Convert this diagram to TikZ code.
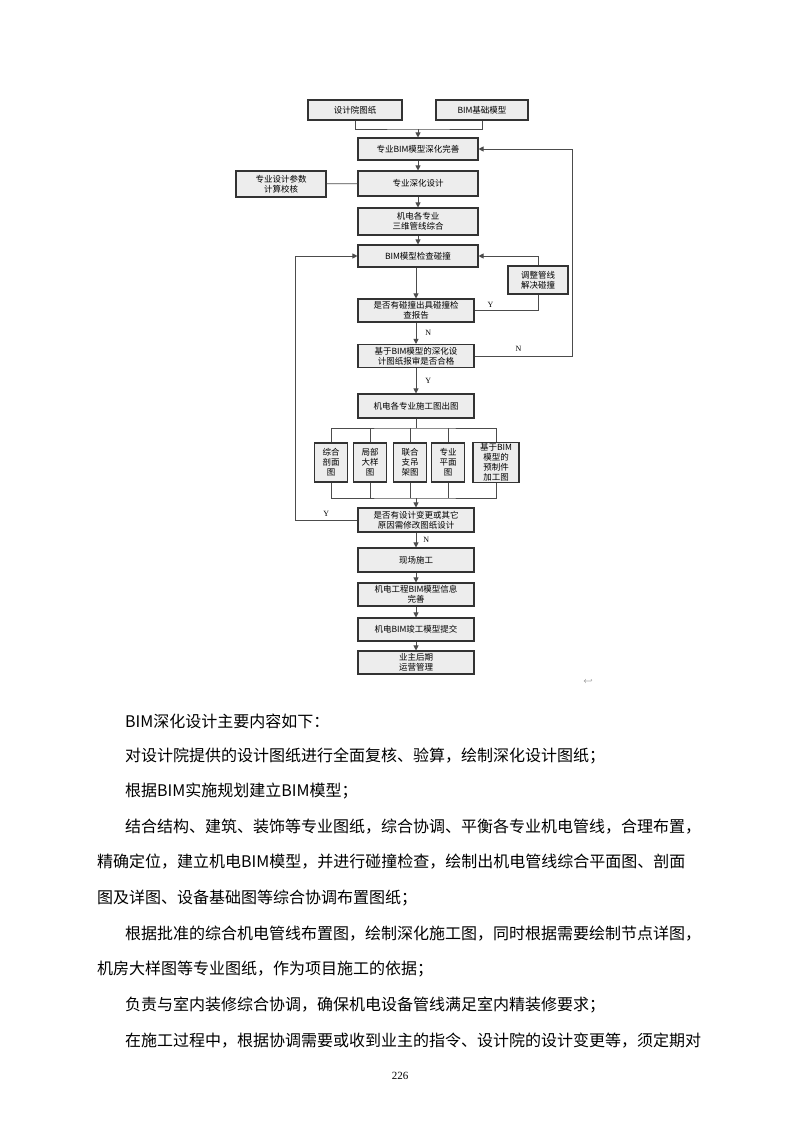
\documentclass[tikz,border=0pt]{standalone}
\usepackage{fontspec}
\setmainfont{Liberation Serif}
\newfontfamily\cjk{Noto Sans CJK SC}
\usetikzlibrary{arrows.meta}
\begin{document}
\begin{tikzpicture}[x=1pt,y=-1pt,
  bx/.style={draw=black!80,line width=1.1pt,fill=black!7,minimum width=120,minimum height=23,inner sep=1pt,align=center,font=\cjk\fontsize{8.5}{10}\selectfont},
  sb/.style={bx,minimum width=33,minimum height=39},
  ln/.style={draw=black!70,line width=0.8pt},
  ar/.style={ln,-{Triangle[length=5,width=5]}},
  lb/.style={font=\fontsize{8}{9}\selectfont,inner sep=1pt},
  tx/.style={anchor=west,inner sep=0,font=\cjk\fontsize{16}{18}\selectfont}]
\useasboundingbox[fill=white] (0,0) rectangle (800,1132);
\node[bx,minimum width=94,minimum height=20] (a1) at (355,110) {设计院图纸};
\node[bx,minimum width=92,minimum height=20] (a2) at (482,110) {BIM基础模型};
\node[bx,minimum height=22] (b) at (418,149) {专业BIM模型深化完善};
\node[bx,minimum height=25] (c) at (418,183.5) {专业深化设计};
\node[bx,minimum width=90,minimum height=26] (p) at (281,184) {专业设计参数\\计算校核};
\node[bx,minimum height=27] (d) at (418,221.5) {机电各专业\\三维管线综合};
\node[bx,minimum height=22] (e) at (418,256) {BIM模型检查碰撞};
\node[bx,minimum width=60,minimum height=28] (adj) at (538,280) {调整管线\\解决碰撞};
\node[bx,minimum width=116] (f) at (416,310.5) {是否有碰撞出具碰撞检\\查报告};
\node[bx,minimum width=116] (g) at (416,356) {基于BIM模型的深化设\\计图纸报审是否合格};
\node[bx,minimum width=116,minimum height=24] (h) at (416,406) {机电各专业施工图出图};
\node[sb] (s1) at (331,462.5) {综合\\剖面\\图};
\node[sb] (s2) at (370,462.5) {局部\\大样\\图};
\node[sb] (s3) at (410,462.5) {联合\\支吊\\架图};
\node[sb] (s4) at (448,462.5) {专业\\平面\\图};
\node[sb,minimum width=46] (s5) at (496,462.5) {基于BIM\\模型的\\预制件\\加工图};
\node[bx,minimum width=116,minimum height=24] (i) at (416,520) {是否有设计变更或其它\\原因需修改图纸设计};
\node[bx,minimum width=116,minimum height=24] (j) at (416,560) {现场施工};
\node[bx,minimum width=116,minimum height=23] (k) at (416,594.5) {机电工程BIM模型信息\\完善};
\node[bx,minimum width=116,minimum height=23] (l) at (416,629.5) {机电BIM竣工模型提交};
\node[bx,minimum width=116,minimum height=23] (m) at (416,662.5) {业主后期\\运营管理};
% connectors
\coordinate (jn) at (418,129);
\draw[ln] (a1.south) |- (jn) -| (a2.south);
\draw[ar] (jn) -- (b.north);
\draw[ar] (b) -- (c);
\draw[ln] (p) -- (c);
\draw[ar] (c) -- (d);
\draw[ar] (d) -- (e);
\draw[ar] (e.south -| f.north) -- (f.north);
\draw[ar] (f) -- node[lb,right=8pt]{N} (g);
\draw[ar] (g) -- node[lb,right=8pt]{Y} (h);
\draw[ln] (f.east) -- node[lb,above=2pt,pos=0.25]{Y} (f.east -| adj.south) -- (adj.south);
\draw[ar] (adj.north) |- (e.east);
\draw[ar] (g.east) -- node[lb,above=3pt,pos=0.45]{N} (572,356) |- (b.east);
\coordinate (t) at (416,428);
\coordinate (u) at (416,498);
\draw[ln] (h.south) -- (t);
\draw[ln] (s1.north) |- (t) -| (s5.north);
\foreach \s in {s2,s3,s4} \draw[ln] (\s.north) -- (\s.north |- t);
\draw[ln] (s1.south) |- (u) -| (s5.south);
\foreach \s in {s2,s3,s4} \draw[ln] (\s.south) -- (\s.south |- u);
\draw[ar] (u) -- (i.north);
\draw[ar] (i.west) -- node[lb,above=2pt,pos=0.5]{Y} (295,520) |- (e.west);
\draw[ar] (i) -- node[lb,right=6pt]{N} (j);
\draw[ar] (j) -- (k);
\draw[ar] (k) -- (l);
\draw[ar] (l) -- (m);
\node[font=\fontsize{8}{9}\selectfont,text=black!60] (ret) at (588,682) {$\hookleftarrow$};
% body text
\node[tx] (t1) at (125,721) {BIM深化设计主要内容如下：};
\node[tx] (t2) at (125,756) {对设计院提供的设计图纸进行全面复核、验算，绘制深化设计图纸；};
\node[tx] (t3) at (125,791) {根据BIM实施规划建立BIM模型；};
\node[tx] (t4) at (125,827) {结合结构、建筑、装饰等专业图纸，综合协调、平衡各专业机电管线，合理布置，};
\node[tx] (t5) at (97,862) {精确定位，建立机电BIM模型，并进行碰撞检查，绘制出机电管线综合平面图、剖面};
\node[tx] (t6) at (97,898) {图及详图、设备基础图等综合协调布置图纸；};
\node[tx] (t7) at (125,934) {根据批准的综合机电管线布置图，绘制深化施工图，同时根据需要绘制节点详图，};
\node[tx] (t8) at (97,969) {机房大样图等专业图纸，作为项目施工的依据；};
\node[tx] (t9) at (125,1005) {负责与室内装修综合协调，确保机电设备管线满足室内精装修要求；};
\node[tx] (t10) at (125,1041) {在施工过程中，根据协调需要或收到业主的指令、设计院的设计变更等，须定期对};
\node[font=\fontsize{11}{12}\selectfont] (pg) at (400,1076) {226};
\end{tikzpicture}
\end{document}
